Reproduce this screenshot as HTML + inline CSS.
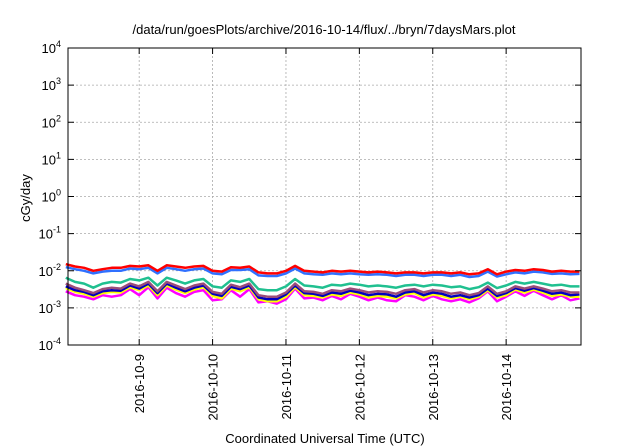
<!DOCTYPE html>
<html><head><meta charset="utf-8"><style>
body{margin:0;background:#fff}
svg{display:block;font-family:"Liberation Sans",sans-serif}
</style></head><body>
<svg id="chart" width="640" height="448">
<text x="324" y="34" font-size="13" text-anchor="middle">/data/run/goesPlots/archive/2016-10-14/flux/../bryn/7daysMars.plot</text>
<text transform="translate(30,198) rotate(-90)" font-size="13" text-anchor="middle">cGy/day</text>
<text x="325" y="443" font-size="13" text-anchor="middle">Coordinated Universal Time (UTC)</text>
<g id="grid"></g><g id="series"></g><g id="axes"></g>
</svg>
<script>
const xTicks=[9,10,11,12,13,14];
const xTickLabels=["2016-10-9","2016-10-10","2016-10-11","2016-10-12","2016-10-13","2016-10-14"];
const yTickExps=[-4,-3,-2,-1,0,1,2,3,4];
const times=[];for(let i=0;i<=56;i++)times.push(8+i*0.125);
const red=[1.5,1.3,1.2,1.0,1.1,1.2,1.2,1.35,1.3,1.4,1.0,1.4,1.3,1.2,1.3,1.35,1.0,0.95,1.25,1.2,1.3,0.9,0.85,0.85,1.0,1.35,1.0,0.95,0.9,1.0,0.95,1.0,0.95,0.9,0.95,0.9,0.85,0.9,0.9,0.85,0.9,0.9,0.85,0.9,0.8,0.85,1.1,0.8,0.95,1.05,1.0,1.1,1.05,0.95,1.0,0.95,0.95];
const blue=[1.25,1.1,1.0,0.85,0.95,1.0,1.0,1.15,1.1,1.2,0.85,1.2,1.1,1.0,1.1,1.15,0.85,0.8,1.05,1.05,1.1,0.75,0.72,0.72,0.85,1.15,0.85,0.8,0.78,0.85,0.8,0.85,0.8,0.78,0.8,0.78,0.72,0.78,0.78,0.72,0.78,0.78,0.72,0.78,0.68,0.72,0.95,0.7,0.8,0.9,0.85,0.95,0.9,0.82,0.85,0.8,0.82];
const teal=[0.65,0.5,0.45,0.35,0.45,0.5,0.48,0.6,0.55,0.65,0.4,0.65,0.55,0.45,0.55,0.6,0.38,0.35,0.55,0.5,0.6,0.32,0.3,0.3,0.38,0.6,0.4,0.38,0.35,0.42,0.4,0.45,0.42,0.38,0.4,0.38,0.35,0.4,0.42,0.38,0.42,0.4,0.36,0.38,0.32,0.36,0.48,0.34,0.4,0.5,0.45,0.5,0.45,0.4,0.42,0.38,0.38];
const brown=[0.45,0.35,0.3,0.25,0.32,0.35,0.33,0.45,0.38,0.5,0.28,0.5,0.4,0.32,0.4,0.45,0.27,0.24,0.42,0.36,0.45,0.22,0.2,0.2,0.26,0.45,0.28,0.27,0.24,0.3,0.28,0.33,0.3,0.26,0.28,0.27,0.24,0.3,0.32,0.26,0.3,0.28,0.24,0.26,0.22,0.25,0.38,0.24,0.28,0.38,0.33,0.38,0.33,0.28,0.3,0.26,0.26];
const navy=[0.38,0.3,0.27,0.22,0.28,0.3,0.29,0.4,0.33,0.45,0.25,0.45,0.35,0.28,0.35,0.4,0.24,0.21,0.37,0.32,0.4,0.19,0.17,0.17,0.23,0.4,0.25,0.24,0.21,0.26,0.24,0.29,0.26,0.22,0.24,0.23,0.2,0.26,0.28,0.22,0.26,0.24,0.2,0.22,0.19,0.22,0.33,0.21,0.25,0.34,0.29,0.34,0.29,0.24,0.26,0.22,0.23];
const yellow=[0.34,0.27,0.24,0.2,0.25,0.27,0.26,0.36,0.3,0.4,0.22,0.4,0.31,0.25,0.31,0.36,0.21,0.18,0.33,0.28,0.36,0.17,0.15,0.15,0.2,0.36,0.22,0.21,0.19,0.23,0.21,0.26,0.23,0.19,0.21,0.2,0.18,0.23,0.25,0.19,0.23,0.21,0.18,0.2,0.17,0.2,0.3,0.19,0.22,0.31,0.26,0.31,0.26,0.21,0.23,0.2,0.2];
const magenta=[0.28,0.22,0.2,0.17,0.22,0.2,0.22,0.32,0.22,0.36,0.18,0.35,0.25,0.2,0.27,0.3,0.16,0.17,0.3,0.2,0.32,0.14,0.15,0.13,0.17,0.33,0.18,0.19,0.16,0.21,0.17,0.24,0.2,0.16,0.19,0.16,0.15,0.22,0.2,0.16,0.21,0.17,0.15,0.17,0.14,0.18,0.28,0.15,0.2,0.28,0.21,0.29,0.22,0.17,0.22,0.16,0.18];
const seriesList=[["magenta",magenta,"#ff00ff"],["yellow",yellow,"#ffff00"],["navy",navy,"#0000c0"],["brown",brown,"#9a4d79"],["teal",teal,"#20c090"],["blue",blue,"#3070ff"],["red",red,"#ff0000"]];
const L=68,R=581,T=48,B=345,X0=8.03,X1=15.02;
const xs=t=>L+(t-X0)/(X1-X0)*(R-L);
const ys=v=>T+(4-Math.log10(v))/8*(B-T);
const NS="http://www.w3.org/2000/svg";
function mk(tag,attrs,parent){const e=document.createElementNS(NS,tag);for(const k in attrs)e.setAttribute(k,attrs[k]);parent.appendChild(e);return e;}
const grid=document.getElementById('grid'),axes=document.getElementById('axes'),ser=document.getElementById('series');
yTickExps.forEach(p=>{const y=ys(Math.pow(10,p));
 if(p>-4&&p<4){const g=mk('line',{x1:L,x2:R,y1:y,y2:y,stroke:'#aaa','stroke-dasharray':'2,2','stroke-width':0.8},grid);
 
 }
 mk('line',{x1:L,x2:L+6,y1:y,y2:y,stroke:'#000'},axes);mk('line',{x1:R-6,x2:R,y1:y,y2:y,stroke:'#000'},axes);
 const t=mk('text',{x:L-7,y:y+5,'font-size':13,'text-anchor':'end'},axes);
 
 
 t.textContent='10';const s=mk('tspan',{dy:-6,'font-size':9},t);s.textContent=String(p);});
xTicks.forEach((d,i)=>{const x=xs(d);
 const g=mk('line',{x1:x,x2:x,y1:T,y2:B,stroke:'#aaa','stroke-dasharray':'2,2','stroke-width':0.8},grid);
 
 
 mk('line',{x1:x,x2:x,y1:B,y2:B-6,stroke:'#000'},axes);mk('line',{x1:x,x2:x,y1:T,y2:T+6,stroke:'#000'},axes);
 const t=mk('text',{transform:`translate(${x+5},${B+9}) rotate(-90)`,'font-size':13,'text-anchor':'end'},axes);
 
 
 t.textContent=xTickLabels[i];});
const fr=mk('rect',{x:L,y:T,width:R-L,height:B-T,fill:'none',stroke:'#000','stroke-width':1},axes);


seriesList.forEach(([n,vals,c])=>{const pts=vals.map((v,i)=>xs(times[i]).toFixed(1)+','+ys(v/100).toFixed(1)).join(' ');
 const pl=mk('polyline',{points:pts,fill:'none',stroke:c,'stroke-width':2.5,'stroke-linejoin':'round'},ser);
 
 });
</script>
</body></html>
